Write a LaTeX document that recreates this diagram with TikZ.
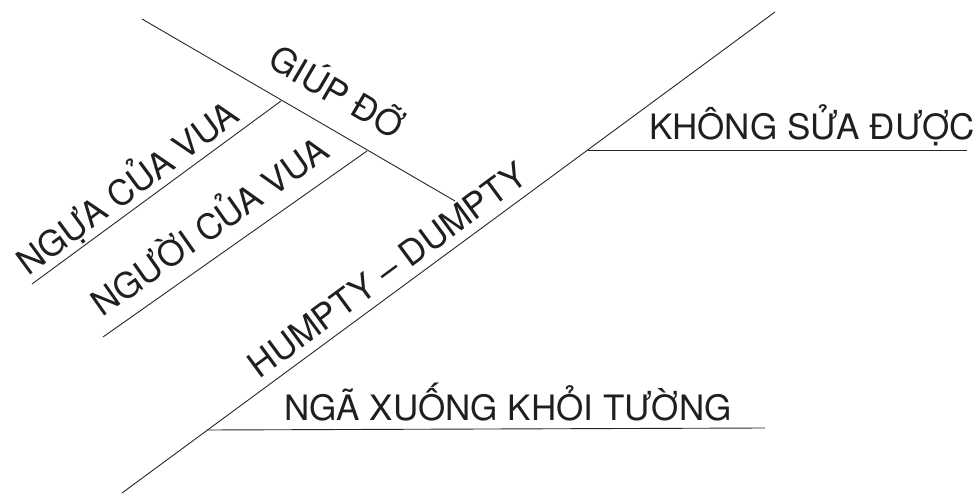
\documentclass[tikz,border=0pt]{standalone}
\usepackage{fontspec}
\setmainfont{TeX Gyre Heros}
\begin{document}
\begin{tikzpicture}[x=1pt,y=-1pt,
  ln/.style={line width=0.9pt, draw=black!85},
  lbl/.style={inner sep=0pt, anchor=base, text=black!88, font=\fontsize{35}{42}\selectfont}]
\useasboundingbox (0,0) rectangle (979,497);
% main diagonal
\coordinate (M1) at (122,493);
\coordinate (M2) at (775,12);
\draw[ln] (M1) -- (M2);
% horizontal branches
\coordinate (K1) at (588,150);
\coordinate (K2) at (967,150);
\draw[ln] (K1) -- (K2);
\coordinate (N1) at (207,430);
\coordinate (N2) at (765,428);
\draw[ln] (N1) -- (N2);
% left branch (GIUP DO)
\coordinate (G1) at (142,19);
\coordinate (G2) at (455,201);
\draw[ln] (G1) -- (G2);
% sub-branches
\coordinate (A1) at (281,101);
\coordinate (A2) at (32,284);
\draw[ln] (A1) -- (A2);
\coordinate (B1) at (367,151);
\coordinate (B2) at (103,337);
\draw[ln] (B1) -- (B2);
% labels
\node[lbl] (tK) at (812,140) {KHÔNG SỬA ĐƯỢC};
\node[lbl] (tN) at (508,420) {NGÃ XUỐNG KHỎI TƯỜNG};
\node[lbl, rotate=36.4] (tH) at (395,280) {HUMPTY – DUMPTY};
\node[lbl, rotate=-30.3] (tG) at (330,103) {GIÚP ĐỠ};
\node[lbl, rotate=36.3] (tA) at (135,198) {NGỰA CỦA VUA};
\node[lbl, rotate=35.2] (tB) at (217,237) {NGƯỜI CỦA VUA};
\end{tikzpicture}
\end{document}
